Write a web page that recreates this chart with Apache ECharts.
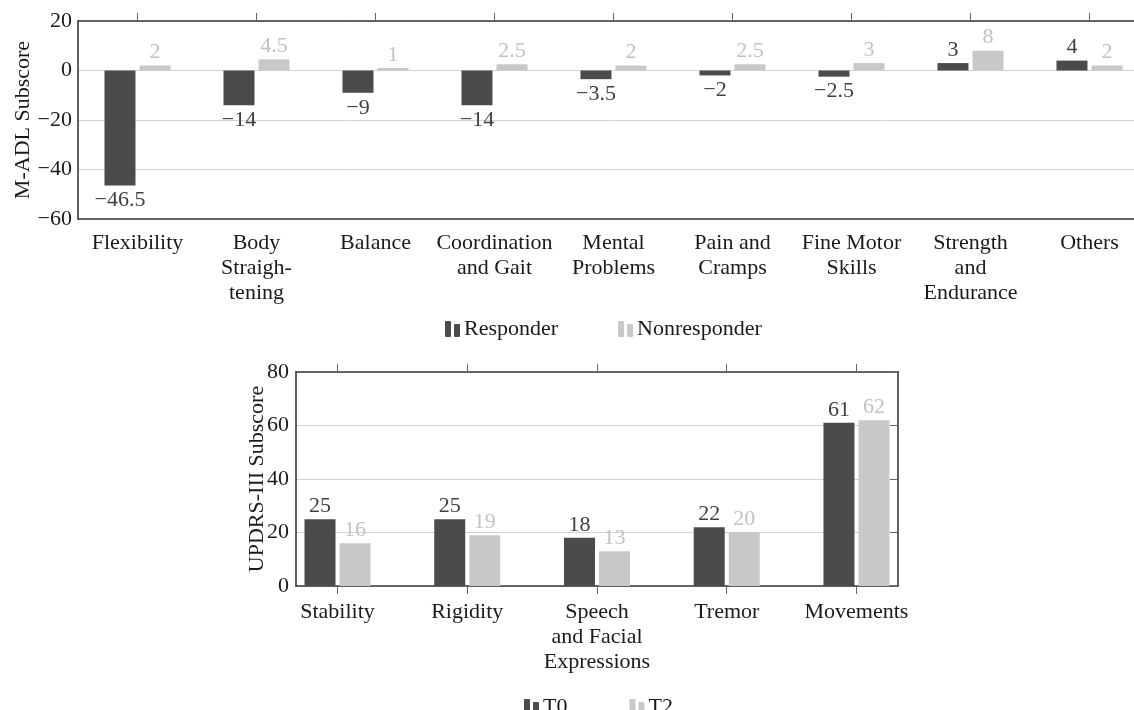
<!DOCTYPE html>
<html>
<head>
<meta charset="utf-8">
<script src="https://cdn.jsdelivr.net/npm/echarts@6/dist/echarts.min.js"></script>
<style>
html,body{margin:0;padding:0;background:#fff;overflow:hidden;}
#c{width:1160px;height:710px;}
</style>
</head>
<body>
<div id="c"></div>
<script>
// ---- Data ----
const adlCategories = ['Flexibility','Body\nStraigh-\ntening','Balance','Coordination\nand Gait','Mental\nProblems','Pain and\nCramps','Fine Motor\nSkills','Strength\nand\nEndurance','Others'];
const responder    = [-46.5, -14, -9, -14, -3.5, -2, -2.5, 3, 4];
const nonresponder = [2, 4.5, 1, 2.5, 2, 2.5, 3, 8, 2];
const adlTicks = [-60, -40, -20, 0, 20];

const updrsCategories = ['Stability','Rigidity','Speech\nand Facial\nExpressions','Tremor','Movements'];
const t0 = [25, 25, 18, 22, 61];
const t2 = [16, 19, 13, 20, 62];
const updrsTicks = [0, 20, 40, 60, 80];

// ---- Styles ----
const FONT = 'Liberation Serif';
const DARK = '#4b4b4b';
const LIGHT = '#c8c8c8';
const DARK_LBL = '#404040';
const LIGHT_LBL = '#c2c2c2';
const AXIS = '#3a3a3a';
const GRIDLINE = '#d2d2d2';
const fmt = v => String(v).replace('-', '\u2212');
const ICON = 'path://M1,0h4q1,0 1,1v14q0,1 -1,1h-4q-1,0 -1,-1v-14q0,-1 1,-1z M10,3h4q1,0 1,1v11q0,1 -1,1h-4q-1,0 -1,-1v-11q0,-1 1,-1z';

function barData(vals, xs) {
  return vals.map((v, i) => ({
    value: xs ? [xs[i], v] : v,
    label: { position: v < 0 ? 'bottom' : 'top', distance: v < 0 ? 4 : 2 }
  }));
}
const idx = updrsCategories.map((_, i) => i);

const xLine = { onZero: false, lineStyle: { color: AXIS, width: 1.6 } };
const yLine = { show: true, onZero: false, lineStyle: { color: AXIS, width: 1.6 } };
const tickStyle = { color: '#666', width: 1 };

const chart = echarts.init(document.getElementById('c'));
chart.setOption({
  animation: false,
  textStyle: { fontFamily: FONT },
  grid: [
    { left: 78, top: 21, width: 1071, height: 198 },
    { left: 296, top: 372, width: 602, height: 214 }
  ],
  legend: [
    { left: 440, top: 313, itemWidth: 15, itemHeight: 16, itemGap: 60, icon: ICON,
      data: ['Responder', 'Nonresponder'],
      textStyle: { fontFamily: FONT, fontSize: 22, color: '#1a1a1a', padding: [0,0,0,-1] } },
    { left: 519, top: 691, itemWidth: 15, itemHeight: 16, itemGap: 62, icon: ICON,
      data: ['T0', 'T2'],
      textStyle: { fontFamily: FONT, fontSize: 22, color: '#1a1a1a', padding: [0,0,0,-1] } }
  ],
  xAxis: [
    { gridIndex: 0, type: 'category', data: adlCategories, position: 'bottom',
      axisLine: xLine,
      axisTick: { alignWithLabel: true, interval: 0, length: 8, lineStyle: tickStyle },
      axisLabel: { interval: 0, margin: 12, fontFamily: FONT, fontSize: 22, color: '#1a1a1a', lineHeight: 25, align: 'center' } },
    { gridIndex: 0, type: 'category', data: adlCategories, position: 'top',
      axisLine: xLine,
      axisTick: { show: true, alignWithLabel: true, interval: 0, length: 8, lineStyle: tickStyle },
      axisLabel: { show: true, interval: 0, color: 'rgba(0,0,0,0)', fontSize: 1 } },
    { gridIndex: 1, type: 'value', min: -0.32, max: 4.32, position: 'bottom',
      splitLine: { show: false },
      axisLine: xLine,
      axisTick: { show: true, customValues: idx, length: 8, lineStyle: tickStyle },
      axisLabel: { customValues: idx, formatter: v => updrsCategories[Math.round(v)], margin: 14,
        fontFamily: FONT, fontSize: 22, color: '#1a1a1a', lineHeight: 25, align: 'center' } },
    { gridIndex: 1, type: 'value', min: -0.32, max: 4.32, position: 'top',
      splitLine: { show: false },
      axisLine: xLine,
      axisTick: { show: true, customValues: idx, length: 8, lineStyle: tickStyle },
      axisLabel: { show: false } }
  ],
  yAxis: [
    { gridIndex: 0, type: 'value', min: adlTicks[0], max: adlTicks[adlTicks.length-1], interval: 20,
      name: 'M-ADL Subscore', nameLocation: 'middle', nameGap: 44, nameMoveOverlap: false,
      nameTextStyle: { fontFamily: FONT, fontSize: 22, color: '#1a1a1a' },
      axisLine: yLine,
      axisTick: { show: false },
      splitLine: { show: true, lineStyle: { color: GRIDLINE, width: 1 } },
      axisLabel: { margin: 6, formatter: fmt, fontFamily: FONT, fontSize: 22, color: '#1a1a1a' } },
    { gridIndex: 0, type: 'value', min: adlTicks[0], max: adlTicks[adlTicks.length-1], interval: 20, position: 'right',
      axisLine: yLine,
      axisTick: { show: true, inside: true, length: 8, lineStyle: tickStyle },
      splitLine: { show: false }, axisLabel: { show: false } },
    { gridIndex: 1, type: 'value', min: updrsTicks[0], max: updrsTicks[updrsTicks.length-1], interval: 20,
      name: 'UPDRS-III Subscore', nameLocation: 'middle', nameGap: 28, nameMoveOverlap: false,
      nameTextStyle: { fontFamily: FONT, fontSize: 22, color: '#1a1a1a' },
      axisLine: yLine,
      axisTick: { show: false },
      splitLine: { show: true, lineStyle: { color: GRIDLINE, width: 1 } },
      axisLabel: { margin: 7, fontFamily: FONT, fontSize: 22, color: '#1a1a1a' } },
    { gridIndex: 1, type: 'value', min: updrsTicks[0], max: updrsTicks[updrsTicks.length-1], interval: 20, position: 'right',
      axisLine: yLine,
      axisTick: { show: true, inside: true, length: 8, lineStyle: tickStyle },
      splitLine: { show: false }, axisLabel: { show: false } }
  ],
  series: [
    { name: 'Responder', type: 'bar', xAxisIndex: 0, yAxisIndex: 0, barWidth: 31, barGap: '13%',
      itemStyle: { color: DARK }, data: barData(responder),
      label: { show: true, formatter: p => fmt(p.value), fontFamily: FONT, fontSize: 22, color: DARK_LBL } },
    { name: 'Nonresponder', type: 'bar', xAxisIndex: 0, yAxisIndex: 0, barWidth: 31, barGap: '13%',
      itemStyle: { color: LIGHT }, data: barData(nonresponder),
      label: { show: true, formatter: p => fmt(p.value), fontFamily: FONT, fontSize: 22, color: LIGHT_LBL } },
    { name: 'T0', type: 'bar', xAxisIndex: 2, yAxisIndex: 2, barWidth: 31, barGap: '13%',
      itemStyle: { color: DARK }, data: barData(t0, idx),
      label: { show: true, formatter: p => fmt(p.value[1]), fontFamily: FONT, fontSize: 22, color: DARK_LBL } },
    { name: 'T2', type: 'bar', xAxisIndex: 2, yAxisIndex: 2, barWidth: 31, barGap: '13%',
      itemStyle: { color: LIGHT }, data: barData(t2, idx),
      label: { show: true, formatter: p => fmt(p.value[1]), fontFamily: FONT, fontSize: 22, color: LIGHT_LBL } }
  ]
});
</script>
</body>
</html>
